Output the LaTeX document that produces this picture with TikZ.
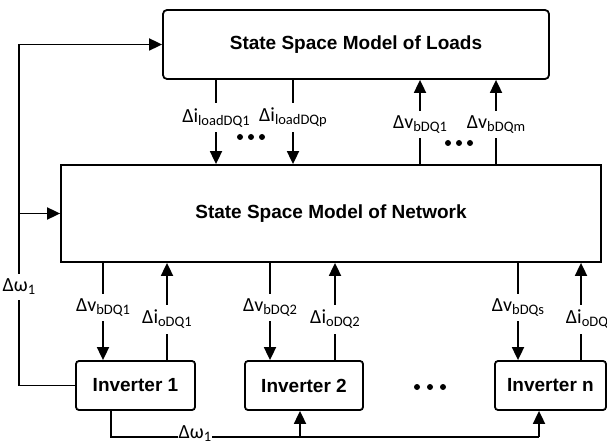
\documentclass[tikz,border=0pt]{standalone}
\usepackage{fontspec}
\setmainfont{Liberation Sans}
\newfontfamily\lblfont{Carlito}
\usetikzlibrary{arrows.meta}
\newcommand\Sub[1]{\raisebox{-3pt}{\fontsize{14.5}{14.5}\selectfont #1}}
\begin{document}
\begin{tikzpicture}[x=1pt,y=-1pt,line width=1.8pt,
  box/.style={draw,line width=1.8pt,inner sep=0pt,font=\fontsize{19}{22}\selectfont\bfseries},
  arr/.style={-{Triangle[length=13pt,width=12pt]}},
  lab/.style={fill=white,inner xsep=1pt,inner ysep=5pt,font=\lblfont\fontsize{20}{22}\selectfont},
  dotmark/.style={circle,fill,inner sep=0pt,minimum size=6pt}]
\useasboundingbox (0,0) rectangle (607,446);
\clip (0,0) rectangle (607,446);

% boxes
\node[box,rounded corners=4pt,minimum width=386pt,minimum height=69pt] (loads) at (356,44.5) {State Space Model of Loads};
\node[box,minimum width=540pt,minimum height=97pt] (net) at (331,213.5) {State Space Model of Network};
\node[box,rounded corners=3pt,minimum width=119pt,minimum height=49pt] (inv1) at (135.5,385.5) {Inverter 1};
\node[box,rounded corners=3pt,minimum width=118pt,minimum height=49pt] (inv2) at (304,385.5) {Inverter 2};
\node[box,rounded corners=3pt,minimum width=111pt,minimum height=49pt] (invn) at (550.5,385.5) {Inverter n};

% x positions
\coordinate (xl1) at (216,0);
\coordinate (xlp) at (293,0);
\coordinate (xb1) at (420,0);
\coordinate (xbm) at (496,0);
\coordinate (xv1) at (103,0);
\coordinate (xi1) at (167,0);
\coordinate (xv2) at (270,0);
\coordinate (xi2) at (335,0);
\coordinate (xvs) at (518,0);
\coordinate (xin) at (581,0);
\coordinate (xfb) at (19,0);
\coordinate (xbot) at (111,0);
\coordinate (x2b) at (300,0);
\coordinate (xnb) at (539,0);
\coordinate (ybot) at (0,437);

% loads <-> network
\draw[arr] (loads.south -| xl1) -- node[lab,pos=.45]{Δi\Sub{loadDQ1}} (net.north -| xl1);
\draw[arr] (loads.south -| xlp) -- node[lab,pos=.45]{Δi\Sub{loadDQp}} (net.north -| xlp);
\draw[arr] (net.north -| xb1) -- node[lab,pos=.47]{Δv\Sub{bDQ1}} (loads.south -| xb1);
\draw[arr] (net.north -| xbm) -- node[lab,pos=.47]{Δv\Sub{bDQm}} (loads.south -| xbm);

% network <-> inverters
\draw[arr] (net.south -| xv1) -- node[lab,pos=.46]{Δv\Sub{bDQ1}} (inv1.north -| xv1);
\draw[arr] (inv1.north -| xi1) -- node[lab,pos=.42]{Δi\Sub{oDQ1}} (net.south -| xi1);
\draw[arr] (net.south -| xv2) -- node[lab,pos=.46]{Δv\Sub{bDQ2}} (inv2.north -| xv2);
\draw[arr] (inv2.north -| xi2) -- node[lab,pos=.42]{Δi\Sub{oDQ2}} (net.south -| xi2);
\draw[arr] (net.south -| xvs) -- node[lab,pos=.46]{Δv\Sub{bDQs}} (invn.north -| xvs);
\draw[arr] (invn.north -| xin) -- node[lab,pos=.42,anchor=west,xshift=-17pt]{Δi\Sub{oDQ}} (net.south -| xin);

% left feedback
\draw[arr] (inv1.west) -- (inv1.west -| xfb) -- node[lab,pos=.289]{Δω\Sub{1}} (loads.west -| xfb) -- (loads.west);
\draw[arr] (net.west -| xfb) -- (net.west);

% bottom feedback
\draw (inv1.south -| xbot) -- (xbot |- ybot) -- node[lab,pos=.196,inner ysep=1pt,yshift=3pt]{Δω\Sub{1}} (xnb |- ybot);
\draw[arr] (x2b |- ybot) -- (inv2.south -| x2b);
\draw[arr] (xnb |- ybot) -- (invn.south -| xnb);

% dots
\foreach \x in {240,251,262} \node[dotmark] at (\x,137) {};
\foreach \x in {448,459,470} \node[dotmark] at (\x,143) {};
\foreach \x in {417,430,443} \node[dotmark] at (\x,387) {};
\end{tikzpicture}
\end{document}
